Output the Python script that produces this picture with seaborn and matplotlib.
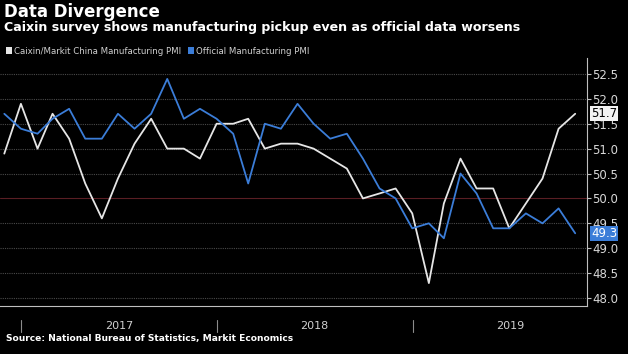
import matplotlib
matplotlib.use("Agg")
import matplotlib.pyplot as plt
import matplotlib.dates as mdates
from matplotlib.patches import Patch
import seaborn as sns
import pandas as pd
import numpy as np

months = pd.date_range("2016-11-30", "2019-10-31", freq="ME")
caixin = [50.9, 51.9, 51.0, 51.7, 51.2, 50.3, 49.6, 50.4, 51.1, 51.6, 51.0, 51.0,
          50.8, 51.5, 51.5, 51.6, 51.0, 51.1, 51.1, 51.0, 50.8, 50.6, 50.0, 50.1,
          50.2, 49.7, 48.3, 49.9, 50.8, 50.2, 50.2, 49.4, 49.9, 50.4, 51.4, 51.7]
official = [51.7, 51.4, 51.3, 51.6, 51.8, 51.2, 51.2, 51.7, 51.4, 51.7, 52.4, 51.6,
            51.8, 51.6, 51.3, 50.3, 51.5, 51.4, 51.9, 51.5, 51.2, 51.3, 50.8, 50.2,
            50.0, 49.4, 49.5, 49.2, 50.5, 50.1, 49.4, 49.4, 49.7, 49.5, 49.8, 49.3]
series_names = ["Caixin/Markit China Manufacturing PMI", "Official Manufacturing PMI"]
y_ticks = [48.0, 48.5, 49.0, 49.5, 50.0, 50.5, 51.0, 51.5, 52.0, 52.5]
year_labels = ["2017", "2018", "2019"]

WHITE = "#e6e6e6"
BLUE = "#3b7dd8"
BG = "#000000"

df = pd.DataFrame({"date": list(months) * 2,
                   "value": caixin + official,
                   "series": [series_names[0]] * len(months) + [series_names[1]] * len(months)})

sns.set_style("dark")
plt.rcParams["font.family"] = ["DejaVu Sans"]

W, H = 628, 354
fig = plt.figure(figsize=(W / 100, H / 100), dpi=100, facecolor=BG)
ax = fig.add_axes([0, (H - 306) / H, 587 / W, (306 - 58) / H])
ax.set_facecolor(BG)

sns.lineplot(data=df, x="date", y="value", hue="series", palette=[WHITE, BLUE],
             hue_order=series_names, ax=ax, legend=False, linewidth=1.3)

ax.set_xlim(pd.Timestamp("2016-11-22"), pd.Timestamp("2019-11-22"))
ax.set_ylim(47.84, 52.82)

# gridlines
for v in y_ticks:
    if v == 50.0:
        ax.axhline(v, color="#5a1e24", lw=0.8, zorder=0)
    else:
        ax.axhline(v, color="#4a4a4a", lw=0.8, ls=(0, (1, 1)), zorder=0)
ax.grid(False)

# spines
for s in ["top", "left"]:
    ax.spines[s].set_visible(False)
ax.spines["right"].set_color("#bfbfbf")
ax.spines["bottom"].set_color("#bfbfbf")
ax.spines["right"].set_linewidth(0.8)
ax.spines["bottom"].set_linewidth(0.8)

# y axis on right
ax.yaxis.tick_right()
ax.set_yticks(y_ticks)
ax.set_yticklabels([f"{v:.1f}" for v in y_ticks])
ax.tick_params(axis="y", colors="#bfbfbf", labelcolor="#d9d9d9", labelsize=8.5,
               length=3, width=0.8, pad=1, direction="out")
ax.set_ylabel("")
ax.set_xlabel("")

# x axis: minor ticks at month ends, no labels
ax.set_xticks(months, minor=True)
ax.set_xticks([])
ax.tick_params(axis="x", which="minor", colors="#bfbfbf", length=2, width=0.8, direction="in")

# year separators and labels
trans = matplotlib.transforms.blended_transform_factory(ax.transData, fig.transFigure)
for yl in year_labels:
    start = mdates.date2num(pd.Timestamp(f"{yl}-01-01"))
    mid = mdates.date2num(pd.Timestamp(f"{yl}-07-02"))
    ax.plot([start, start], [1 - 320 / H, 1 - 332 / H], color="#8c8c8c", lw=0.8,
            transform=trans, clip_on=False)
    ax.text(mid, 1 - 326 / H, yl, transform=trans, ha="center", va="center",
            color="#d0d0d0", fontsize=8)

# value tags
for val, fc, tc in [(caixin[-1], "#f2f2f2", "#000000"), (official[-1], BLUE, "#ffffff")]:
    ax.annotate(f"{val:.1f}", xy=(1.0, val), xycoords=("axes fraction", "data"),
                xytext=(3, 0), textcoords="offset points", ha="left", va="center",
                fontsize=8.5, color=tc,
                bbox=dict(boxstyle="square,pad=0.1", fc=fc, ec="none"),
                annotation_clip=False)

# titles
fig.text(4 / W, 1 - 12 / H, "Data Divergence", color="white", fontsize=12,
         fontweight="bold", ha="left", va="center")
fig.text(4 / W, 1 - 28 / H, "Caixin survey shows manufacturing pickup even as official data worsens",
         color="white", fontsize=9.1, fontweight="bold", ha="left", va="center")

# legend
handles = [Patch(facecolor=WHITE, edgecolor="none"), Patch(facecolor=BLUE, edgecolor="none")]
leg = fig.legend(handles, series_names, loc="center left", bbox_to_anchor=(6 / W, 1 - 51 / H),
                 ncol=2, frameon=False, fontsize=6.2, handlelength=0.7, handleheight=0.7,
                 handletextpad=0.2, columnspacing=0.8, borderaxespad=0, borderpad=0)
for t in leg.get_texts():
    t.set_color("#d0d0d0")

fig.text(6 / W, 1 - 339 / H, "Source: National Bureau of Statistics, Markit Economics",
         color="white", fontsize=6.6, fontweight="bold", ha="left", va="center")

fig.savefig("out.png", dpi=100, facecolor=BG)
